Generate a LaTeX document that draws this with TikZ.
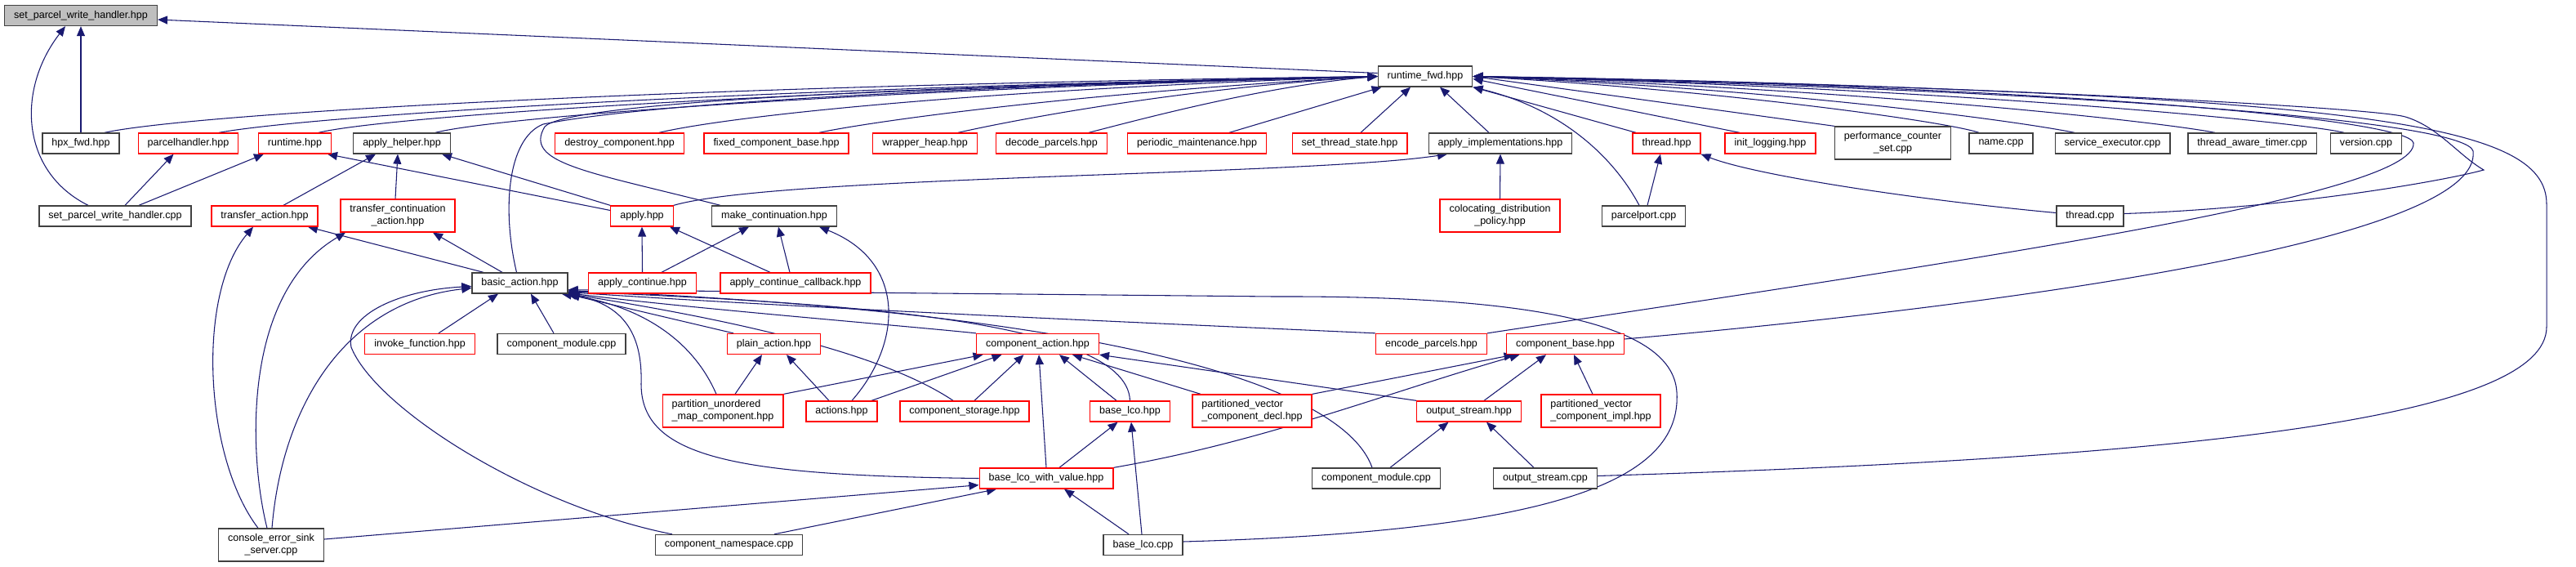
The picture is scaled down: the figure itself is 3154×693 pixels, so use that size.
\documentclass[tikz,border=0pt]{standalone}
\usepackage{fontspec}
\setmainfont{Liberation Sans}
\usetikzlibrary{arrows.meta}
\usetikzlibrary{backgrounds}
\definecolor{edgeblue}{HTML}{191970}
\definecolor{boxred}{HTML}{FF0000}
\definecolor{boxgrey}{HTML}{404040}
\definecolor{rootfill}{HTML}{BFBFBF}
\tikzset{file/.style = {draw=boxgrey, fill=white, line width=1pt, inner xsep=8.6pt, inner ysep=0pt,
    minimum height=18.75pt, font=\fontsize{9.4}{11}\selectfont}}
\tikzset{redfile/.style = {file, draw=boxred}}
\tikzset{twoline/.style = {align=center, minimum height=30pt}}
\tikzset{dep/.style = {draw=edgeblue, line width=0.8pt, -{Triangle[length=9pt,width=7.5pt]}}}
\tikzset{ox/.style = {xshift=#1*0.75pt}, oy/.style = {yshift=-0.75pt*(#1)}}

\begin{document}
\begin{tikzpicture}[x=0.75pt, y=-0.75pt]
  \useasboundingbox (0,0) rectangle (3154,693);
  \node[file, fill=rootfill] (sph) at (99,19) {set\_parcel\_write\_handler.hpp};
  \node[file] (rtfwd) at (1745,93.5) {runtime\_fwd.hpp};
  \node[file] (hpxfwd) at (99,175.5) {hpx\_fwd.hpp};
  \node[redfile] (phandler) at (230.5,175.5) {parcelhandler.hpp};
  \node[redfile] (runtime) at (361,175.5) {runtime.hpp};
  \node[file] (applyhelper) at (492,175.5) {apply\_helper.hpp};
  \node[redfile] (destroy) at (758.5,175.5) {destroy\_component.hpp};
  \node[redfile] (fixedbase) at (950.5,175.5) {fixed\_component\_base.hpp};
  \node[redfile] (wrapheap) at (1132.5,175.5) {wrapper\_heap.hpp};
  \node[redfile] (decode) at (1287.5,175.5) {decode\_parcels.hpp};
  \node[redfile] (periodic) at (1465.5,175.5) {periodic\_maintenance.hpp};
  \node[redfile] (setthread) at (1652.5,175.5) {set\_thread\_state.hpp};
  \node[file] (applyimpl) at (1837,175.5) {apply\_implementations.hpp};
  \node[redfile] (threadhpp) at (2040.5,175.5) {thread.hpp};
  \node[redfile] (initlog) at (2167.5,175.5) {init\_logging.hpp};
  \node[file, twoline] (perfset) at (2317.5,175) {performance\_counter\\\_set.cpp};
  \node[file] (namecpp) at (2450,175.5) {name.cpp};
  \node[file] (svcexec) at (2586.5,175.5) {service\_executor.cpp};
  \node[file] (awaretimer) at (2757.5,175.5) {thread\_aware\_timer.cpp};
  \node[file] (version) at (2897,175.5) {version.cpp};

  \node[file] (sphcpp) at (141,264.5) {set\_parcel\_write\_handler.cpp};
  \node[redfile] (transact) at (324,264.5) {transfer\_action.hpp};
  \node[redfile, twoline] (transcont) at (487,264) {transfer\_continuation\\\_action.hpp};
  \node[redfile] (apply) at (786,264.5) {apply.hpp};
  \node[file] (makecont) at (948,264.5) {make\_continuation.hpp};
  \node[redfile, twoline] (coloc) at (1836.5,264) {colocating\_distribution\\\_policy.hpp};
  \node[file] (pport) at (2012.5,264.5) {parcelport.cpp};
  \node[file] (threadcpp) at (2559,264.5) {thread.cpp};

  \node[file] (basicact) at (636.5,346.5) {basic\_action.hpp};
  \node[redfile] (applycont) at (786.5,346.5) {apply\_continue.hpp};
  \node[redfile] (applycb) at (974,346.5) {apply\_continue\_callback.hpp};

  \node[redfile] (invoke) at (514,421) {invoke\_function.hpp};
  \node[file] (compmod) at (687.5,421) {component\_module.cpp};
  \node[redfile] (plainact) at (947.5,421) {plain\_action.hpp};
  \node[redfile] (compact) at (1270.5,421) {component\_action.hpp};
  \node[redfile] (encode) at (1752.5,421) {encode\_parcels.hpp};
  \node[redfile] (compbase) at (1916.5,421) {component\_base.hpp};

  \node[redfile, twoline, align=left] (partmap) at (885,503) {partition\_unordered\\\_map\_component.hpp};
  \node[redfile] (actions) at (1030.5,503.5) {actions.hpp};
  \node[redfile] (compstore) at (1181,503.5) {component\_storage.hpp};
  \node[redfile] (baselco) at (1383.5,503.5) {base\_lco.hpp};
  \node[redfile, twoline, align=left] (pvdecl) at (1533,503) {partitioned\_vector\\\_component\_decl.hpp};
  \node[redfile] (ostreamh) at (1798.5,503.5) {output\_stream.hpp};
  \node[redfile, twoline, align=left] (pvimpl) at (1960,503) {partitioned\_vector\\\_component\_impl.hpp};

  \node[redfile] (baselcowv) at (1281,585.5) {base\_lco\_with\_value.hpp};
  \node[file] (compmodb) at (1685,585.5) {component\_module.cpp};
  \node[file] (ostreamc) at (1892,585.5) {output\_stream.cpp};

  \node[file, twoline] (console) at (332,667) {console\_error\_sink\\\_server.cpp};
  \node[file] (compns) at (892.5,667) {component\_namespace.cpp};
  \node[file] (baselcocpp) at (1399.5,667) {base\_lco.cpp};

  \begin{scope}[on background layer]
    % set_parcel_write_handler.hpp
    \draw[dep] (hpxfwd.north) -- (sph.south);
    \draw[dep] ([ox=-33]sphcpp.north) .. controls (25,210) and (20,110) .. ([ox=-19]sph.south);
    \draw[dep] ([oy=-4]rtfwd.west) -- ([oy=5]sph.east);
    % runtime_fwd.hpp, from the left
    \draw[dep] ([ox=29]hpxfwd.north) .. controls (230,140) and (800,105) .. (rtfwd.west);
    \draw[dep] ([ox=37.5]phandler.north) .. controls (380,142) and (900,108) .. (rtfwd.west);
    \draw[dep] ([ox=29]runtime.north) .. controls (470,143) and (950,110) .. (rtfwd.west);
    \draw[dep] ([ox=41]applyhelper.north) .. controls (600,145) and (1000,112) .. (rtfwd.west);
    \draw[dep] ([ox=-4]basicact.north) .. controls (615,260) and (620,170) .. (665,152)
      .. controls (800,125) and (1200,105) .. (rtfwd.west);
    \draw[dep] ([ox=-66]makecont.north) .. controls (720,210) and (640,200) .. (667,155)
      .. controls (690,130) and (1000,108) .. (rtfwd.west);
    \draw[dep] ([ox=48.5]destroy.north) .. controls (880,145) and (1150,112) .. (rtfwd.west);
    \draw[dep] ([ox=52.5]fixedbase.north) .. controls (1060,150) and (1300,115) .. (rtfwd.west);
    \draw[dep] ([ox=40.5]wrapheap.north) .. controls (1250,145) and (1450,108) .. (rtfwd.west);
    \draw[dep] ([ox=45.5]decode.north) .. controls (1400,145) and (1550,105) .. (rtfwd.west);
    \draw[dep] ([ox=39.5]periodic.north) -- ([ox=5]rtfwd.south west);
    \draw[dep] ([ox=13.5]setthread.north) -- ([ox=-18]rtfwd.south);
    \draw[dep] ([ox=-14]applyimpl.north) -- ([ox=18]rtfwd.south);
    % runtime_fwd.hpp, from the right
    \draw[dep] ([ox=-37.5]threadhpp.north) -- (rtfwd.south east);
    \draw[dep] ([ox=-37.5]initlog.north) -- ([oy=3]rtfwd.east);
    \draw[dep] (perfset.north west) -- (rtfwd.east);
    \draw[dep] ([ox=-27]namecpp.north) .. controls (2380,148) and (2100,110) .. (rtfwd.east);
    \draw[dep] ([ox=-46.5]svcexec.north) .. controls (2480,150) and (2200,110) .. (rtfwd.east);
    \draw[dep] ([ox=-45.5]awaretimer.north) .. controls (2650,150) and (2300,110) .. (rtfwd.east);
    \draw[dep] ([ox=-27]version.north) .. controls (2820,150) and (2400,108) .. (rtfwd.east);
    \draw[dep] ([ox=-5.5]pport.north) .. controls (1980,200) and (1920,135) .. (rtfwd.south east);
    \draw[dep] ([oy=-3]threadcpp.east) .. controls (2800,255) and (2990,222) .. (3041,208)
      .. controls (3010,190) and (2985,155) .. (2945,143)
      .. controls (2900,130) and (2300,100) .. (rtfwd.east);
    \draw[dep] (encode.north east) .. controls (2400,320) and (2960,240) .. (2955,175)
      .. controls (2950,145) and (2500,105) .. (rtfwd.east);
    \draw[dep] ([oy=-6]compbase.east) .. controls (2500,370) and (3040,290) .. (3028,185)
      .. controls (3020,150) and (2600,112) .. (rtfwd.east);
    \draw[dep] ([oy=-3]ostreamc.east) .. controls (2700,560) and (3118,510) .. (3118,400)
      -- (3118,250) .. controls (3118,150) and (2900,115) .. (rtfwd.east);
    % parcelhandler, runtime, apply_helper
    \draw[dep] ([ox=12]sphcpp.north) -- ([ox=-18]phandler.south);
    \draw[dep] ([ox=29]sphcpp.north) -- ([ox=-38]runtime.south);
    \draw[dep] ([oy=-7]apply.west) -- ([ox=40]runtime.south);
    \draw[dep] (apply.north west) -- ([ox=49]applyhelper.south);
    \draw[dep] ([ox=23]transact.north) -- ([ox=-32]applyhelper.south);
    \draw[dep] ([ox=-3]transcont.north) -- ([ox=-5]applyhelper.south);
    % transfer actions
    \draw[dep] ([ox=-44.5]basicact.north) -- ([ox=53]transact.south);
    \draw[dep] ([ox=-21.5]basicact.north) -- ([ox=43]transcont.south);
    \draw[dep] ([ox=-16]console.north) .. controls (250,560) and (240,360) .. ([ox=-14]transact.south);
    \draw[dep] ([ox=-5]console.north) .. controls (305,560) and (295,360) .. ([ox=-64]transcont.south);
    % basic_action.hpp
    \draw[dep] ([ox=1]console.north) .. controls (345,500) and (420,370) .. ([oy=6]basicact.west);
    \draw[dep] ([ox=-69.5]compns.north) .. controls (650,620) and (460,500) .. (430,425)
      .. controls (422,385) and (490,355) .. ([oy=4]basicact.west);
    \draw[dep] ([ox=23]invoke.north) -- ([ox=-26.5]basicact.south);
    \draw[dep] ([ox=-9.5]compmod.north) -- ([ox=13.5]basicact.south);
    \draw[dep] ([ox=-8]partmap.north) .. controls (850,420) and (790,375) .. ([ox=-8]basicact.south east);
    \draw[dep] ([ox=-49.5]plainact.north) -- ([ox=2,oy=1]basicact.south east);
    \draw[dep] (baselcowv.west) .. controls (900,582) and (785,560) .. (785,470)
      .. controls (787,405) and (760,372) .. ([ox=-2]basicact.south east);
    \draw[dep] (compact.north west) .. controls (1100,398) and (850,378) .. ([oy=-1]basicact.south east);
    \draw[dep] ([ox=-14]compstore.north) .. controls (1080,432) and (900,392) .. ([ox=1]basicact.south east);
    \draw[dep] (baselco.north) .. controls (1380,388) and (1000,370) .. ([oy=-3]basicact.south east);
    \draw[dep] (encode.north west) .. controls (1400,395) and (1000,378) .. ([oy=-2]basicact.south east);
    \draw[dep] ([ox=-5]compmodb.north) .. controls (1640,460) and (1300,380) .. ([oy=-4]basicact.south east);
    \draw[dep] ([oy=-4]baselcocpp.east) .. controls (1900,650) and (2060,590) .. (2053,480)
      .. controls (2048,390) and (1850,362) .. (1560,363) -- ([oy=-5]basicact.south east);
    % apply.hpp, make_continuation.hpp
    \draw[dep] (applycont.north) -- (apply.south);
    \draw[dep] ([ox=23.5]applycont.north) -- ([ox=-31]makecont.south);
    \draw[dep] ([ox=-31]applycb.north) -- ([ox=34]apply.south);
    \draw[dep] ([ox=-7]applycb.north) -- ([ox=5]makecont.south);
    \draw[dep] ([ox=12.5]actions.north) .. controls (1105,420) and (1110,320) .. ([ox=55]makecont.south);
    % apply_implementations.hpp, thread.hpp
    \draw[dep] (apply.north east) .. controls (950,215) and (1600,215) .. ([ox=-65]applyimpl.south);
    \draw[dep] (coloc.north) -- (applyimpl.south);
    \draw[dep] ([ox=4.5]pport.north) -- ([ox=-7.5]threadhpp.south);
    \draw[dep] ([oy=-4]threadcpp.west) .. controls (2350,245) and (2150,215) .. (threadhpp.south east);
    % component_action.hpp
    \draw[dep] (partmap.north east) -- ([ox=-67]compact.south);
    \draw[dep] ([ox=36.5]actions.north) -- ([ox=-44]compact.south);
    \draw[dep] ([ox=12]compstore.north) -- ([ox=-17]compact.south);
    \draw[dep] (baselcowv.north) -- ([ox=1.5]compact.south);
    \draw[dep] ([ox=-16.5]baselco.north) -- ([ox=26.5]compact.south);
    \draw[dep] ([ox=-63]pvdecl.north) -- ([ox=42.5]compact.south);
    \draw[dep] (ostreamh.north west) -- (compact.south east);
    % component_base.hpp
    \draw[dep] (pvdecl.north east) -- ([ox=-63]compbase.south);
    \draw[dep] (baselcowv.north east) .. controls (1550,540) and (1700,480) .. ([ox=-56]compbase.south);
    \draw[dep] ([ox=18.5]ostreamh.north) -- ([ox=-23.5]compbase.south);
    \draw[dep] ([ox=-10]pvimpl.north) -- ([ox=10.5]compbase.south);
    % base_lco.hpp, base_lco_with_value.hpp
    \draw[dep] ([ox=16]baselcowv.north) -- ([ox=-15]baselco.south);
    \draw[dep] ([ox=-1.5]baselcocpp.north) -- ([ox=1.5]baselco.south);
    \draw[dep] ([ox=-17.5]baselcocpp.north) -- ([ox=22]baselcowv.south);
    \draw[dep] ([oy=-7]console.east) -- ([oy=-5]baselcowv.south west);
    \draw[dep] ([ox=55.5]compns.north) -- ([ox=-61]baselcowv.south);
    % output_stream.hpp, plain_action.hpp
    \draw[dep] ([ox=17]compmodb.north) -- ([ox=-25]ostreamh.south);
    \draw[dep] ([ox=-14]ostreamc.north) -- ([ox=21.5]ostreamh.south);
    \draw[dep] ([ox=15]partmap.north) -- ([ox=-14.5]plainact.south);
    \draw[dep] ([ox=-15.5]actions.north) -- ([ox=15.5]plainact.south);
  \end{scope}
\end{tikzpicture}
\end{document}
